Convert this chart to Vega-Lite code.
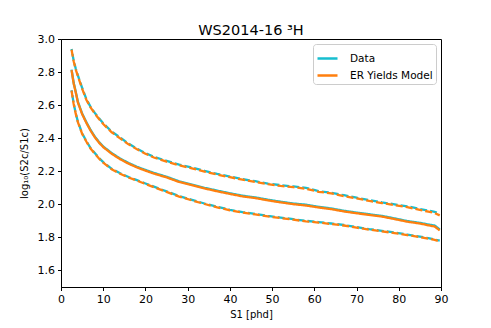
{
  "$schema": "https://vega.github.io/schema/vega-lite/v6.json",
  "width": 380,
  "height": 248,
  "autosize": {"type": "none"},
  "padding": {"left": 61, "top": 39, "right": 50, "bottom": 41},
  "background": "white",
  "title": {"text": "WS2014-16 ³H", "fontSize": 14.5, "fontWeight": "normal", "font": "DejaVu Sans", "color": "black", "anchor": "middle", "offset": 1, "dy": 6},
  "config": {
    "font": "DejaVu Sans",
    "view": {"stroke": "black", "strokeWidth": 1},
    "axis": {"grid": false, "domainColor": "black", "tickColor": "black", "labelColor": "black", "titleColor": "black", "labelFontSize": 11, "titleFontSize": 10, "titleFontWeight": "normal", "tickSize": 3.5, "labelPadding": 3, "labelOverlap": false, "labelFlush": false}
  },
  "data": {"values": [
    {"s":2.5,"du":2.94,"dm":2.815,"dl":2.69,"mu":2.935,"mm":2.812,"ml":2.688},
    {"s":3,"du":2.87,"dm":2.735,"dl":2.61,"mu":2.865,"mm":2.731,"ml":2.607},
    {"s":3.5,"du":2.82,"dm":2.68,"dl":2.55,"mu":2.815,"mm":2.676,"ml":2.547},
    {"s":4,"du":2.78,"dm":2.62,"dl":2.5,"mu":2.775,"mm":2.616,"ml":2.497},
    {"s":5,"du":2.705,"dm":2.55,"dl":2.43,"mu":2.7,"mm":2.546,"ml":2.427},
    {"s":6,"du":2.637,"dm":2.497,"dl":2.383,"mu":2.633,"mm":2.493,"ml":2.38},
    {"s":7,"du":2.59,"dm":2.45,"dl":2.34,"mu":2.586,"mm":2.446,"ml":2.337},
    {"s":8,"du":2.553,"dm":2.41,"dl":2.31,"mu":2.549,"mm":2.406,"ml":2.307},
    {"s":9,"du":2.52,"dm":2.377,"dl":2.28,"mu":2.516,"mm":2.373,"ml":2.277},
    {"s":10,"du":2.49,"dm":2.35,"dl":2.255,"mu":2.486,"mm":2.346,"ml":2.252},
    {"s":12,"du":2.44,"dm":2.31,"dl":2.215,"mu":2.436,"mm":2.306,"ml":2.212},
    {"s":14,"du":2.404,"dm":2.277,"dl":2.188,"mu":2.399,"mm":2.273,"ml":2.185},
    {"s":16,"du":2.367,"dm":2.25,"dl":2.165,"mu":2.363,"mm":2.246,"ml":2.162},
    {"s":18,"du":2.337,"dm":2.227,"dl":2.146,"mu":2.333,"mm":2.223,"ml":2.143},
    {"s":20,"du":2.31,"dm":2.208,"dl":2.126,"mu":2.306,"mm":2.204,"ml":2.123},
    {"s":22,"du":2.287,"dm":2.19,"dl":2.107,"mu":2.283,"mm":2.186,"ml":2.104},
    {"s":25,"du":2.263,"dm":2.167,"dl":2.078,"mu":2.258,"mm":2.163,"ml":2.075},
    {"s":28,"du":2.24,"dm":2.139,"dl":2.05,"mu":2.236,"mm":2.135,"ml":2.047},
    {"s":31,"du":2.223,"dm":2.12,"dl":2.027,"mu":2.218,"mm":2.116,"ml":2.024},
    {"s":34,"du":2.202,"dm":2.1,"dl":2.005,"mu":2.198,"mm":2.096,"ml":2.002},
    {"s":37,"du":2.184,"dm":2.083,"dl":1.985,"mu":2.18,"mm":2.079,"ml":1.982},
    {"s":40,"du":2.168,"dm":2.067,"dl":1.967,"mu":2.164,"mm":2.063,"ml":1.964},
    {"s":43,"du":2.152,"dm":2.052,"dl":1.953,"mu":2.149,"mm":2.048,"ml":1.95},
    {"s":46,"du":2.14,"dm":2.042,"dl":1.942,"mu":2.135,"mm":2.038,"ml":1.939},
    {"s":49,"du":2.125,"dm":2.028,"dl":1.93,"mu":2.122,"mm":2.024,"ml":1.927},
    {"s":52,"du":2.116,"dm":2.016,"dl":1.92,"mu":2.111,"mm":2.012,"ml":1.917},
    {"s":55,"du":2.108,"dm":2.005,"dl":1.91,"mu":2.104,"mm":2.001,"ml":1.907},
    {"s":58,"du":2.1,"dm":1.998,"dl":1.9,"mu":2.094,"mm":1.993,"ml":1.897},
    {"s":61,"du":2.08,"dm":1.985,"dl":1.893,"mu":2.076,"mm":1.981,"ml":1.89},
    {"s":64,"du":2.07,"dm":1.975,"dl":1.884,"mu":2.066,"mm":1.971,"ml":1.881},
    {"s":67,"du":2.055,"dm":1.961,"dl":1.875,"mu":2.05,"mm":1.957,"ml":1.872},
    {"s":70,"du":2.04,"dm":1.95,"dl":1.862,"mu":2.036,"mm":1.946,"ml":1.859},
    {"s":73,"du":2.026,"dm":1.94,"dl":1.85,"mu":2.021,"mm":1.936,"ml":1.847},
    {"s":76,"du":2.012,"dm":1.93,"dl":1.84,"mu":2.008,"mm":1.926,"ml":1.837},
    {"s":79,"du":2.0,"dm":1.915,"dl":1.83,"mu":1.995,"mm":1.911,"ml":1.826},
    {"s":82,"du":1.988,"dm":1.899,"dl":1.817,"mu":1.983,"mm":1.895,"ml":1.814},
    {"s":85,"du":1.972,"dm":1.888,"dl":1.805,"mu":1.966,"mm":1.884,"ml":1.802},
    {"s":87,"du":1.962,"dm":1.878,"dl":1.795,"mu":1.956,"mm":1.873,"ml":1.792},
    {"s":88.5,"du":1.955,"dm":1.872,"dl":1.788,"mu":1.947,"mm":1.866,"ml":1.785},
    {"s":89.7,"du":1.945,"dm":1.848,"dl":1.78,"mu":1.933,"mm":1.842,"ml":1.776}
  ]},
  "encoding": {
    "x": {"field": "s", "type": "quantitative", "scale": {"domain": [0, 90], "nice": false, "zero": false}, "axis": {"title": "S1 [phd]", "values": [0,10,20,30,40,50,60,70,80,90], "format": "d", "titlePadding": 5}},
    "y": {"field": "value", "type": "quantitative", "scale": {"domain": [1.5, 3.0], "nice": false, "zero": false}, "axis": {"title": "log₁₀(S2c/S1c)", "values": [1.6,1.8,2.0,2.2,2.4,2.6,2.8,3.0], "format": ".1f", "titlePadding": 8}},
    "detail": {"field": "key", "type": "nominal"},
    "strokeDash": {"field": "key", "type": "nominal", "legend": null, "scale": {"domain": ["du","dm","dl","mu","mm","ml"], "range": [[7,3],[1,0],[7,3],[7,3],[1,0],[7,3]]}},
    "color": {"datum": "Data", "scale": {"domain": ["Data", "ER Yields Model"], "range": ["#17becf", "#ff7f0e"]},
      "legend": {"title": null, "orient": "top-right", "offset": 5, "strokeColor": "#cccccc", "fillColor": "white", "cornerRadius": 3, "padding": 3, "labelFontSize": 10.5, "labelColor": "black", "symbolType": "stroke", "symbolStrokeWidth": 2.5, "symbolSize": 400, "symbolDash": [1, 0], "rowPadding": -3, "labelOffset": 11}}
  },
  "layer": [
    {"transform": [{"fold": ["du", "dm", "dl"]}],
     "mark": {"type": "line", "strokeWidth": 2.3, "strokeDashOffset": 5},
     "encoding": {}},
    {"transform": [{"fold": ["mu", "mm", "ml"]}],
     "mark": {"type": "line", "strokeWidth": 2.3},
     "encoding": {"color": {"datum": "ER Yields Model"}}}
  ]
}
